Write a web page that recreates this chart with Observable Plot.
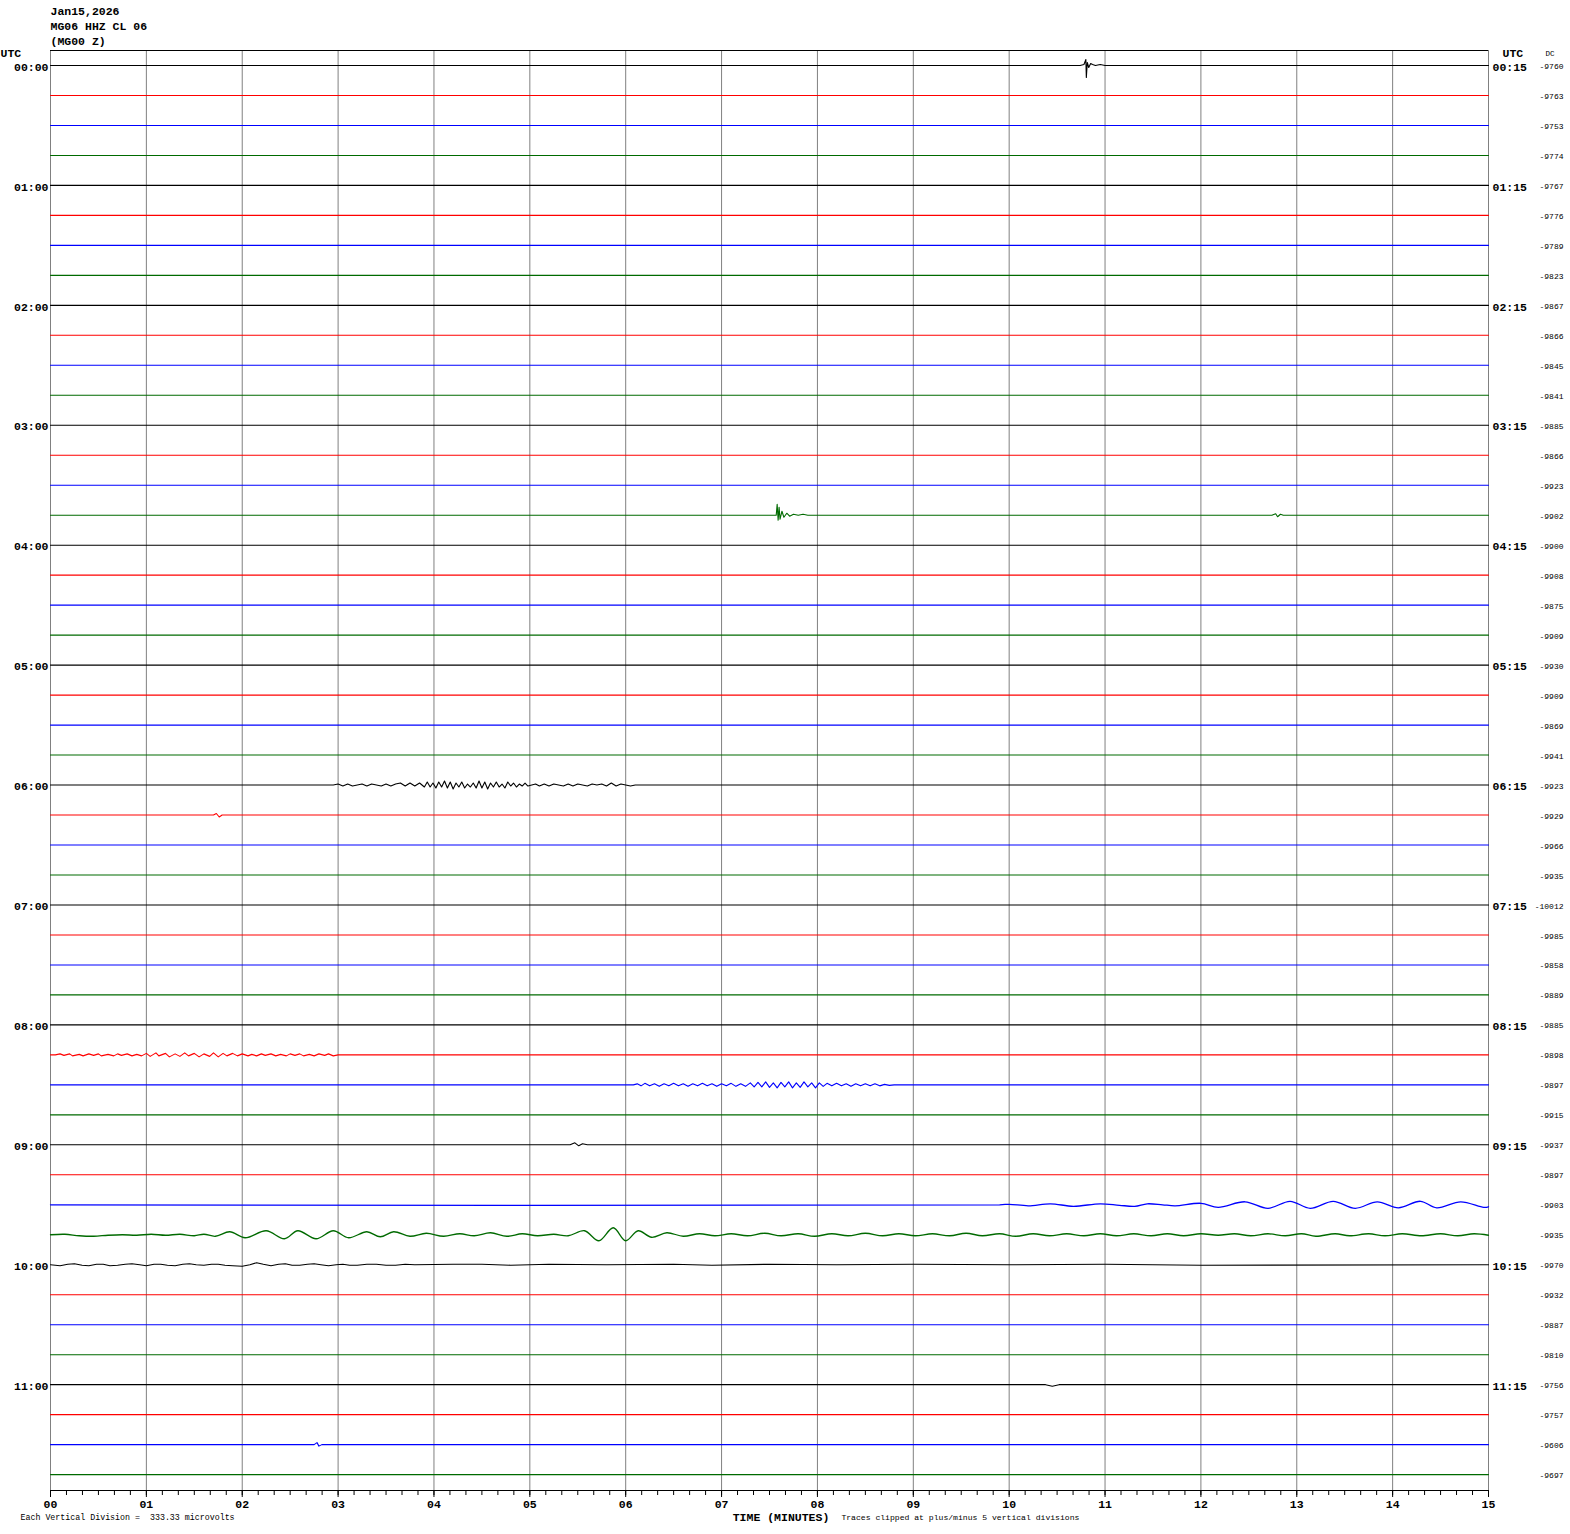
<!DOCTYPE html>
<html><head><meta charset="utf-8">
<script src="https://cdn.jsdelivr.net/npm/d3@7"></script>
<script src="https://cdn.jsdelivr.net/npm/@observablehq/plot@0.6"></script>
<style>body{margin:0;background:#fff}</style>
</head><body><div id="chart"></div><script>
// ---- text / labels ----
const headerLines = ["Jan15,2026", "MG06 HHZ CL 06", "(MG00 Z)"];
const leftLabels = ["00:00","01:00","02:00","03:00","04:00","05:00","06:00","07:00","08:00","09:00","10:00","11:00"];
const rightLabels = ["00:15","01:15","02:15","03:15","04:15","05:15","06:15","07:15","08:15","09:15","10:15","11:15"];
const minuteLabels = ["00","01","02","03","04","05","06","07","08","09","10","11","12","13","14","15"];
const dcValues = [-9760,-9763,-9753,-9774,-9767,-9776,-9789,-9823,-9867,-9866,-9845,-9841,
  -9885,-9866,-9923,-9902,-9900,-9908,-9875,-9909,-9930,-9909,-9869,-9941,
  -9923,-9929,-9966,-9935,-10012,-9985,-9858,-9889,-9885,-9898,-9897,-9915,
  -9937,-9897,-9903,-9935,-9970,-9932,-9887,-9810,-9756,-9757,-9606,-9697];
const xTitle = "TIME (MINUTES)";
const scaleNote = "Each Vertical Division =  333.33 microvolts";
const clipNote = "Traces clipped at plus/minus 5 vertical divisions";

// ---- trace deflections: [minute, offset (px, up positive)] ----
const ev00_00 = [[10.74,0],[10.78,1],[10.80,6],[10.805,-12],[10.815,3],[10.83,-2],[10.85,2],[10.87,1],[10.9,0],[10.95,1],[11.0,0]];
const ev03_45 = [[7.5,0],[7.57,0],[7.58,11],[7.59,-5],[7.60,8],[7.61,-4],[7.63,4],[7.65,-2],[7.68,2],[7.71,-1],[7.75,1],[7.8,0],[7.85,1],[7.9,0],
  [12.74,0],[12.78,1.5],[12.8,-1.5],[12.83,1],[12.86,0]];
const ev06_00 = [[2.95,0],[3.0,1],[3.05,-1],[3.1,1],[3.15,-1],[3.2,0],[3.25,1],[3.3,-1],[3.35,1],[3.4,0],[3.45,-1],[3.5,1],[3.55,-1],[3.6,1],[3.65,2],[3.7,-1],[3.75,2],[3.8,-1],[3.85,2],[3.9,-2],
  [3.93,3],[3.96,-2],[3.99,2],[4.02,-3],[4.05,3],[4.08,-2],[4.11,4],[4.14,-3],[4.17,3],[4.2,-4],[4.23,2],[4.26,-2],[4.29,3],[4.32,-3],[4.35,1],[4.38,-2],[4.41,2],[4.44,-3],[4.47,4],[4.5,-3],
  [4.53,3],[4.56,-4],[4.59,2],[4.62,-2],[4.65,3],[4.68,-2],[4.71,1],[4.74,-3],[4.77,3],[4.8,-1],[4.83,2],[4.86,-2],[4.89,1],[4.92,-1],[4.95,2],[4.98,-1],[5.02,0],[5.06,1],[5.1,-1],[5.15,1],
  [5.2,-1],[5.25,1],[5.3,0],[5.35,-1],[5.4,1],[5.45,-1],[5.5,1],[5.55,0],[5.6,-1],[5.65,1],[5.7,0],[5.75,1],[5.8,-1],[5.85,2],[5.9,-1],[5.95,1],[6.0,0],[6.05,-1],[6.1,0]];
const ev06_15 = [[1.7,0],[1.73,1.5],[1.76,-2],[1.79,0]];
const ev08_15 = [[0.05,0],[0.1,1],[0.14,-0.5],[0.2,1],[0.23,-1],[0.3,0.5],[0.34,-1],[0.4,1],[0.45,-0.5],[0.5,1],[0.53,-1],[0.6,0.5],[0.66,-1],[0.7,1],[0.74,-0.5],[0.8,1],[0.85,-1],[0.9,0.5],[0.95,-1],
  [1.0,1.5],[1.04,-1.5],[1.1,2],[1.13,-1],[1.2,1.5],[1.24,-2],[1.3,1],[1.35,-1.5],[1.4,2],[1.44,-1],[1.5,1.5],[1.55,-2],[1.6,1],[1.66,-1.5],[1.7,2],[1.75,-2],[1.8,1.5],[1.84,-1],[1.9,1.5],[1.95,-1],
  [2.0,1],[2.06,-1],[2.1,0.5],[2.15,-1],[2.2,1],[2.24,-0.5],[2.3,1],[2.35,-1],[2.4,0.5],[2.46,-1],[2.5,1],[2.55,-0.5],[2.6,1],[2.64,-1],[2.7,0.5],[2.75,-1],[2.8,1],[2.86,-0.5],[2.9,1],[2.95,-1],[3.0,0]];
const ev08_30 = [[6.08,0],[6.12,1],[6.16,-1],[6.2,1.5],[6.25,-1],[6.3,1],[6.35,-1.5],[6.4,1],[6.45,-1],[6.5,1.5],[6.55,-1],[6.6,1],[6.65,-1.5],[6.7,1],[6.75,-1],[6.8,1.5],[6.85,-1],[6.9,1],[6.95,-1.5],
  [7.0,1],[7.05,-1],[7.1,1.5],[7.15,-1.5],[7.2,1],[7.25,-1.5],[7.3,2],[7.34,-2],[7.38,2.5],[7.42,-2],[7.46,3],[7.5,-2.5],[7.54,2],[7.58,-3],[7.62,2.5],[7.66,-2],[7.7,3],[7.74,-3],[7.78,2],[7.82,-2.5],
  [7.86,3],[7.9,-2],[7.94,2],[7.98,-3],[8.02,2],[8.06,-1.5],[8.1,1.5],[8.15,-1],[8.2,1.5],[8.25,-1],[8.3,1],[8.35,-1.5],[8.4,1],[8.45,-1],[8.5,1],[8.55,-1],[8.6,1],[8.65,-1],[8.7,0.5],[8.75,-0.5],[8.8,0]];
const ev09_00 = [[5.42,0],[5.47,2],[5.51,-1],[5.55,1],[5.6,0]];
const ev09_30 = [[9.9,0],[10.0,0.5],[10.2,-1],[10.43,1],[10.67,-1.5],[10.95,1],[11.15,-0.5],[11.31,-1.5],[11.44,1],[11.6,0],[11.73,-1],[12.0,1.5],[12.18,-2.5],[12.46,3],[12.70,-3.5],
  [12.93,3.5],[13.14,-3.5],[13.38,3.5],[13.61,-3.5],[13.84,3],[14.06,-3],[14.29,3.5],[14.46,-3],[14.71,3],[14.95,-2.5],[15,-2]];
const ev09_45 = [[0,0],[0.15,0.5],[0.3,-1],[0.45,-1.5],[0.6,-0.5],[0.75,0],[0.9,-0.5],[1.05,0.5],[1.2,-0.5],[1.35,0.5],[1.5,-1],[1.6,0.5],[1.72,-1.5],[1.87,3],[2.03,-3],[2.25,4],[2.44,-4],
  [2.58,4],[2.77,-4],[2.95,4],[3.11,-3],[3.30,3],[3.44,-2],[3.58,3],[3.75,-1.5],[3.92,1.5],[4.1,-1.5],[4.27,1],[4.42,-1],[4.59,2],[4.76,-1.5],[4.92,1],[5.08,-1],[5.25,0.5],[5.40,-1],[5.57,4],
  [5.72,-6],[5.87,7],[6.0,-6],[6.13,4],[6.27,-2.5],[6.43,2],[6.6,-1.5],[6.77,1],[6.93,-1],[7.1,1],[7.27,-1],[7.45,1.5],[7.62,-1],[7.8,1],[7.97,-1.5],[8.15,1],[8.32,-1],[8.5,1.5],[8.68,-1],
  [8.85,1],[9.02,-1],[9.2,1],[9.38,-1],[9.55,1.5],[9.72,-1],[9.9,1],[10.07,-1.5],[10.25,1],[10.42,-1],[10.6,1],[10.78,-1],[10.95,1],[11.12,-1],[11.3,1],[11.48,-1],[11.65,1],[11.82,-1],[12.0,1],
  [12.18,-0.5],[12.35,1],[12.52,-1],[12.7,1],[12.88,-1],[13.05,1],[13.2,-1.5],[13.4,1],[13.55,-1],[13.75,1],[13.92,-1],[14.1,1],[14.3,-1],[14.5,1],[14.68,-1],[14.85,1],[15,-0.5]];
const ev10_00 = [[0,0],[0.1,-1],[0.18,0.5],[0.25,1],[0.33,-0.5],[0.4,-1],[0.48,0.5],[0.55,0.5],[0.62,-1],[0.7,-0.5],[0.78,0.5],[0.85,1],[0.93,0],[1.0,-1],[1.08,0.5],[1.15,0.5],[1.22,-0.5],[1.3,-1],
  [1.38,0.5],[1.45,1],[1.52,0],[1.6,-0.5],[1.68,0.5],[1.75,0.5],[1.82,-0.5],[1.9,-1],[2.0,-1.5],[2.08,0],[2.15,2],[2.22,0.5],[2.3,-1],[2.38,0.5],[2.45,1],[2.52,-0.5],[2.6,-0.5],[2.68,0.5],[2.75,1],
  [2.82,0],[2.9,-1],[2.98,0],[3.05,0.5],[3.12,-0.5],[3.2,-0.5],[3.3,0.5],[3.4,0.5],[3.5,-0.5],[3.6,-0.5],[3.7,0.5],[3.8,0],[4.2,0.5],[4.5,0.5],[4.8,-0.5],[5.2,0.5],[5.8,0],[6.5,0.5],[6.9,-0.5],
  [7.5,0.5],[8.2,0],[9.0,0.5],[10,0],[11,0.5],[12,-0.5],[15,0]];
const ev11_00 = [[10.38,0],[10.45,-1.5],[10.52,0]];
const ev11_30 = [[2.75,0],[2.78,2],[2.8,-1.5],[2.83,0]];

const traceEvents = new Map([[0, ev00_00],[15, ev03_45],[24, ev06_00],[25, ev06_15],[33, ev08_15],[34, ev08_30],
  [36, ev09_00],[38, ev09_30],[39, ev09_45],[40, ev10_00],[44, ev11_00],[46, ev11_30]]);
const smoothTraces = new Set([38, 39]);
const colors = ["#000000", "#ff0000", "#0000ff", "#006a00"];

const Y0 = -0.5, Y1 = 47.53;
const PX = 1440 / (Y1 - Y0);

const rows = [];
dcValues.forEach((dc, i) => {
  const ev = traceEvents.get(i) || [];
  const pts = [];
  if (!ev.length || ev[0][0] > 0) pts.push([0, 0]);
  pts.push(...ev);
  if (!ev.length || ev[ev.length - 1][0] < 15) pts.push([15, 0]);
  pts.forEach(([t, v]) => rows.push({trace: i, t, y: i - v / PX, color: colors[i % 4], smooth: smoothTraces.has(i)}));
});

const majorTicks = minuteLabels.map((d, i) => i);
const minorTicks = d3.range(0, 90 + 1).map(k => k / 6);
const mono = "Liberation Mono, DejaVu Sans Mono, monospace";

const plot = Plot.plot({
  width: 1570, height: 1534,
  marginLeft: 50, marginRight: 82, marginTop: 50, marginBottom: 44,
  style: {background: "#fff", fontFamily: mono},
  x: {domain: [0, 15]},
  y: {domain: [Y0, Y1], reverse: true, axis: null},
  marks: [
    Plot.ruleX(majorTicks, {stroke: "#808080", strokeWidth: 1}),
    Plot.ruleY([Y0], {x1: 0, x2: 15, stroke: "#000"}),
    Plot.ruleY([Y1], {x1: 0, x2: 15, stroke: "#000"}),
    Plot.line(rows.filter(d => !d.smooth), {x: "t", y: "y", z: "trace", stroke: "color", strokeWidth: 1.1}),
    Plot.line(rows.filter(d => d.smooth), {x: "t", y: "y", z: "trace", stroke: "color", strokeWidth: 1.3, curve: "catmull-rom"}),
    Plot.axisX({ticks: minorTicks, tickSize: 5, tickFormat: () => "", label: null, stroke: "#000"}),
    Plot.axisX({ticks: majorTicks, tickSize: 7, tickPadding: 2, tickFormat: i => minuteLabels[i], label: null,
      fontSize: 11.5, fontWeight: "bold", fontFamily: mono, stroke: "#000", fill: "#000"}),
    // header
    Plot.text(headerLines, {x: 0, y: (d, i) => -1.8 + 0.5 * i, text: d => d, textAnchor: "start", fontSize: 11.5, fontWeight: "bold", fontFamily: mono, fill: "#000"}),
    // left labels
    Plot.text(["UTC"], {x: 0, y: -0.5, dx: -50, dy: 3, text: d => d, textAnchor: "start", fontSize: 11.5, fontWeight: "bold", fontFamily: mono}),
    Plot.text(leftLabels, {x: 0, y: (d, i) => i * 4, dx: -2, dy: 1.5, text: d => d, textAnchor: "end", fontSize: 11.5, fontWeight: "bold", fontFamily: mono}),
    // right labels
    Plot.text(["UTC"], {x: 15, y: -0.5, dx: 14, dy: 3, text: d => d, textAnchor: "start", fontSize: 11.5, fontWeight: "bold", fontFamily: mono}),
    Plot.text(rightLabels, {x: 15, y: (d, i) => i * 4, dx: 4, dy: 1.5, text: d => d, textAnchor: "start", fontSize: 11.5, fontWeight: "bold", fontFamily: mono}),
    Plot.text(["DC"], {x: 15, y: -0.5, dx: 57, dy: 3, text: d => d, textAnchor: "start", fontSize: 7.5, fontFamily: mono}),
    Plot.text(dcValues, {x: 15, y: (d, i) => i, dx: 75, dy: 1, text: d => String(d), textAnchor: "end", fontSize: 8, fontFamily: mono}),
    // bottom texts
    Plot.text([xTitle], {x: 7.62, frameAnchor: "bottom", dy: 30, text: d => d, fontSize: 11.5, fontWeight: "bold", fontFamily: mono}),
    Plot.text([scaleNote], {x: 0, frameAnchor: "bottom", dx: -30, dy: 29, text: d => d, textAnchor: "start", fontSize: 8.3, fontFamily: mono}),
    Plot.text([clipNote], {x: 8.25, frameAnchor: "bottom", dy: 29, text: d => d, textAnchor: "start", fontSize: 8.1, fontFamily: mono})
  ]
});
document.getElementById("chart").appendChild(plot);
</script></body></html>
